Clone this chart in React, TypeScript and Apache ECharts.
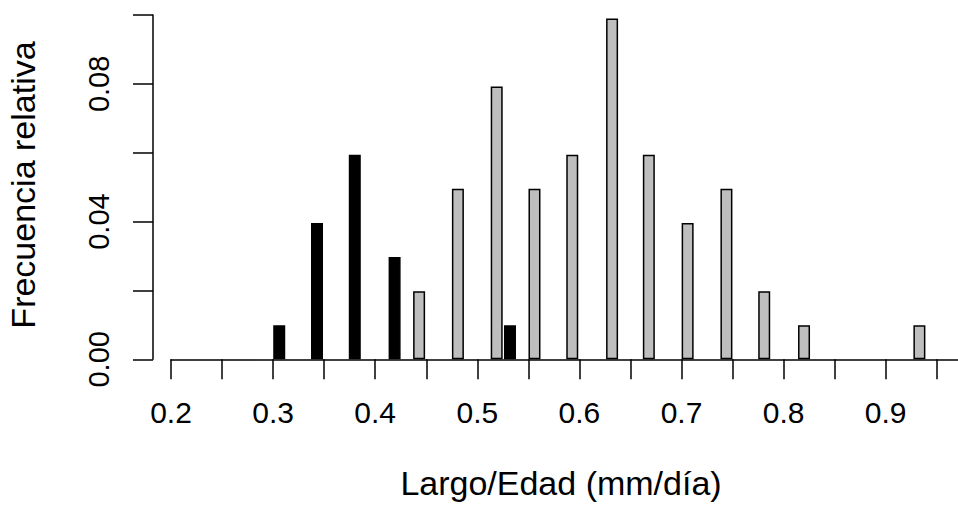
import React, { useEffect, useRef } from "react";
import * as echarts from "echarts";

const blackX = [0.306, 0.343, 0.380, 0.419, 0.532];
const blackY = [0.0099, 0.0396, 0.0594, 0.0297, 0.0099];
const grayX = [0.443, 0.481, 0.519, 0.556, 0.593, 0.632, 0.668, 0.706, 0.744, 0.781, 0.820, 0.933];
const grayY = [0.0198, 0.0495, 0.0792, 0.0495, 0.0594, 0.099, 0.0594, 0.0396, 0.0495, 0.0198, 0.0099, 0.0099];

const xTickValues = [0.2, 0.25, 0.3, 0.35, 0.4, 0.45, 0.5, 0.55, 0.6, 0.65, 0.7, 0.75, 0.8, 0.85, 0.9, 0.95];
const xLabelValues = [0.2, 0.3, 0.4, 0.5, 0.6, 0.7, 0.8, 0.9];
const xAxisMax = 0.9708;

const xTitle = "Largo/Edad (mm/día)";
const yTitle = "Frecuencia relativa";

const FONT = '"Liberation Sans", Arial, sans-serif';

export default function App() {
  const ref = useRef<HTMLDivElement>(null);
  useEffect(() => {
    document.body.style.margin = "0";
    const chart = echarts.init(ref.current!, null, { renderer: "svg" });
    const lineStyle = { color: "#000", width: 1.5 };
    chart.setOption({
      animation: false,
      backgroundColor: "#fff",
      grid: { left: 171, right: 0, top: 15, bottom: 145.7, containLabel: false },
      xAxis: {
        type: "value",
        min: 0.2,
        max: xAxisMax,
        splitLine: { show: false },
        axisLine: { show: true, onZero: true, lineStyle },
        axisTick: { show: true, length: 20, lineStyle, customValues: xTickValues },
        axisLabel: {
          color: "#000",
          fontFamily: FONT,
          fontSize: 30,
          margin: 38,
          customValues: xLabelValues,
          formatter: (v: number) => v.toFixed(1),
        },
      },
      yAxis: {
        type: "value",
        min: 0,
        max: 0.1,
        interval: 0.02,
        offset: 18,
        splitLine: { show: false },
        axisLine: { show: true, lineStyle },
        axisTick: { show: true, length: 20, lineStyle },
        axisLabel: {
          color: "#000",
          fontFamily: FONT,
          fontSize: 29,
          rotate: 90,
          margin: 40,
          formatter: (v: number) => (Math.round(v * 100) % 4 === 0 ? v.toFixed(2) : ""),
        },
      },
      graphic: [
        {
          type: "text",
          x: 561,
          y: 483,
          style: {
            text: xTitle,
            font: `34px ${FONT}`,
            fill: "#000",
            textAlign: "center",
            textVerticalAlign: "middle",
          },
        },
        {
          type: "text",
          x: 23,
          y: 185,
          rotation: Math.PI / 2,
          style: {
            text: yTitle,
            font: `34px ${FONT}`,
            fill: "#000",
            textAlign: "center",
            textVerticalAlign: "middle",
          },
        },
      ],
      series: [
        {
          type: "bar",
          data: blackX.map((x, i) => [x, blackY[i]]),
          barWidth: 12,
          barGap: "-100%",
          itemStyle: { color: "#000", borderColor: "#000", borderWidth: 1.5 },
        },
        {
          type: "bar",
          data: grayX.map((x, i) => [x, grayY[i]]),
          barWidth: 12,
          barGap: "-100%",
          itemStyle: { color: "#bebebe", borderColor: "#000", borderWidth: 1.5 },
        },
      ],
    });
    return () => chart.dispose();
  }, []);
  return (
    <div
      ref={ref}
      style={{ width: 958, height: 505, position: "absolute", left: 0, top: 0 }}
    />
  );
}
